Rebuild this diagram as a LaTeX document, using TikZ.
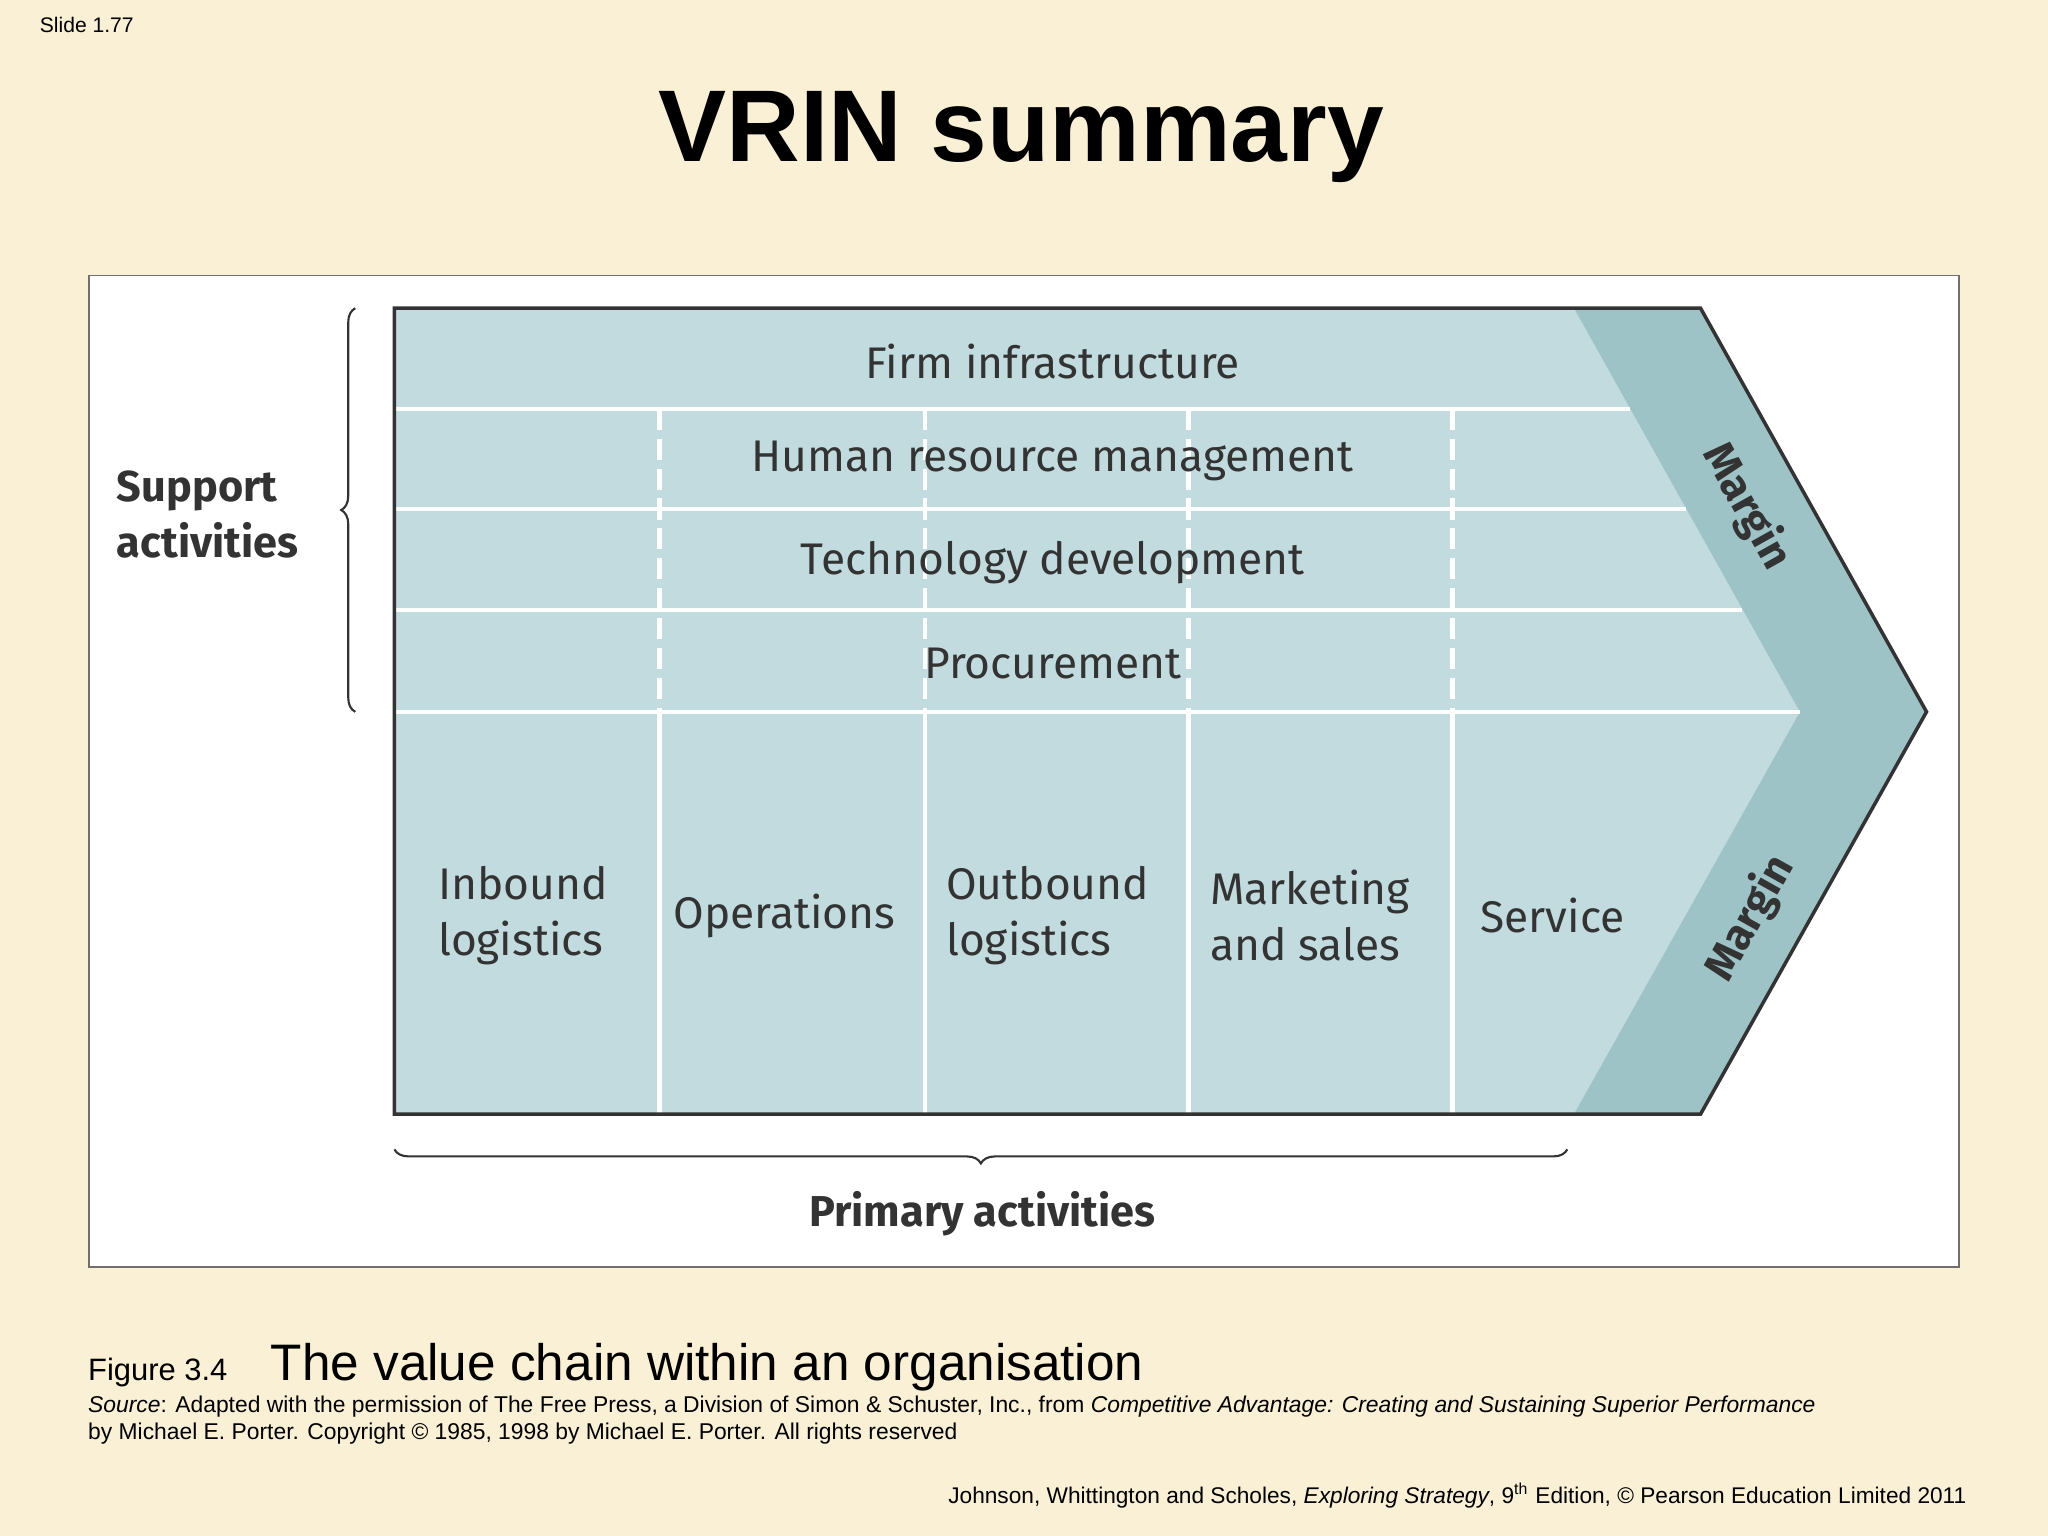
\documentclass[tikz,border=0pt]{standalone}
\usepackage{fontspec}
\setmainfont{Liberation Sans}
\newfontfamily\din{Fira Sans}
\usetikzlibrary{decorations.pathreplacing}
\definecolor{bg}{HTML}{F9F0D6}
\definecolor{cell}{HTML}{C1DBDE}
\definecolor{marg}{HTML}{9DC3C7}
\definecolor{ink}{HTML}{333333}
\begin{document}
\begin{tikzpicture}[x=0.013061cm,y=-0.013061cm,
  chain/.style={font=\din\fontsize{12.6}{16}\selectfont,text=ink,inner sep=0pt},
  bchain/.style={chain,font=\din\bfseries\fontsize{12.3}{16}\selectfont},
  prim/.style={chain,align=left,anchor=west},
  sep/.style={white,line width=1.2pt},
  dsep/.style={sep,dash pattern=on 6pt off 2.5pt},
  brace/.style={draw=ink,line width=0.6pt,decorate,decoration={brace,amplitude=4pt}}]
\fill[bg] (0,0) rectangle (1568,1176);
\useasboundingbox (0,0) rectangle (1568,1176);
\node[anchor=west,inner sep=0pt,font=\fontsize{6}{7}\selectfont] (slide) at (30,19) {Slide 1.77};
\node[font=\bfseries\fontsize{29}{34}\selectfont] (title) at (782,105) {VRIN summary};
\draw[fill=white,draw=ink!70,line width=0.5pt] (68,211) rectangle (1500,970);
% chain
\fill[marg] (302,236) -- (1302,236) -- (1475,545) -- (1302,853) -- (302,853) -- cycle;
\fill[cell] (302,236) -- (1205,236) -- (1378,545) -- (1205,853) -- (302,853) -- cycle;
\draw[sep] (302,313) -- (1248,313);
\draw[sep] (302,390) -- (1291,390);
\draw[sep] (302,467) -- (1334,467);
\draw[sep] (302,545) -- (1378,545);
\foreach \x in {505,708,910,1112}{
  \draw[dsep] (\x,313) -- (\x,545);
  \draw[sep] (\x,545) -- (\x,853);}
\draw[ink,line width=1pt] (302,236) -- (1302,236) -- (1475,545) -- (1302,853) -- (302,853) -- cycle;
\node[chain] (fi) at (806,277) {Firm infrastructure};
\node[chain] (hr) at (806,353) {Human resource management};
\node[chain] (td) at (806,431) {Technology development};
\node[chain] (pr) at (806,508) {Procurement};
\node[prim] (ib) at (335,701) {Inbound\\logistics};
\node[prim] (op) at (515,701) {Operations};
\node[prim] (ob) at (724,701) {Outbound\\logistics};
\node[prim] (ms) at (926,701) {Marketing\\and sales};
\node[prim] (sv) at (1133,701) {Service};
\node[bchain,rotate=-60.75] (m1) at (1337,388) {Margin};
\node[bchain,rotate=60.75] (m2) at (1340,703) {Margin};
% braces
\coordinate (lb1) at (272,545); \coordinate (lb2) at (272,236);
\draw[brace] (lb1) -- (lb2);
\node[bchain,align=left,anchor=west] (sa) at (89,394) {Support\\activities};
\coordinate (pb1) at (1200,880); \coordinate (pb2) at (302,880);
\draw[brace] (pb1) -- (pb2);
\node[bchain] (pa) at (752,929) {Primary activities};
% captions
\node[anchor=base west,inner sep=0pt] (fig) at (67,1057) {\fontsize{8.8}{10}\selectfont Figure 3.4\hspace{1.4em}\fontsize{14.6}{16}\selectfont The value chain within an organisation};
\node[anchor=north west,inner sep=0pt,font=\fontsize{6.5}{7.8}\selectfont,align=left] (src) at (67,1068) {\textit{Source}: Adapted with the permission of The Free Press, a Division of Simon \& Schuster, Inc., from \textit{Competitive Advantage: Creating and Sustaining Superior Performance}\\by Michael E. Porter. Copyright © 1985, 1998 by Michael E. Porter. All rights reserved};
\node[anchor=base east,inner sep=0pt,font=\fontsize{6.45}{7.8}\selectfont] (cr) at (1506,1151) {Johnson, Whittington and Scholes, \textit{Exploring Strategy}, 9\textsuperscript{th} Edition, © Pearson Education Limited 2011};
\end{tikzpicture}
\end{document}
